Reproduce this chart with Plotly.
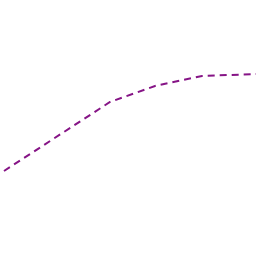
import plotly.graph_objects as go

x_vals = [4, 110, 155, 202, 256]
y_vals = [85, 154, 170, 180, 182]

fig = go.Figure(go.Scatter(
    x=x_vals, y=y_vals, mode="lines",
    line=dict(color="#861486", width=2, dash="7px,5px"),
    hoverinfo="skip",
))
fig.update_layout(
    width=256, height=256,
    margin=dict(l=0, r=0, t=0, b=0),
    paper_bgcolor="white", plot_bgcolor="white",
    showlegend=False,
    xaxis=dict(range=[0, 256], visible=False, fixedrange=True),
    yaxis=dict(range=[0, 256], visible=False, fixedrange=True),
)
fig.write_html("out.html", config={"displayModeBar": False})
